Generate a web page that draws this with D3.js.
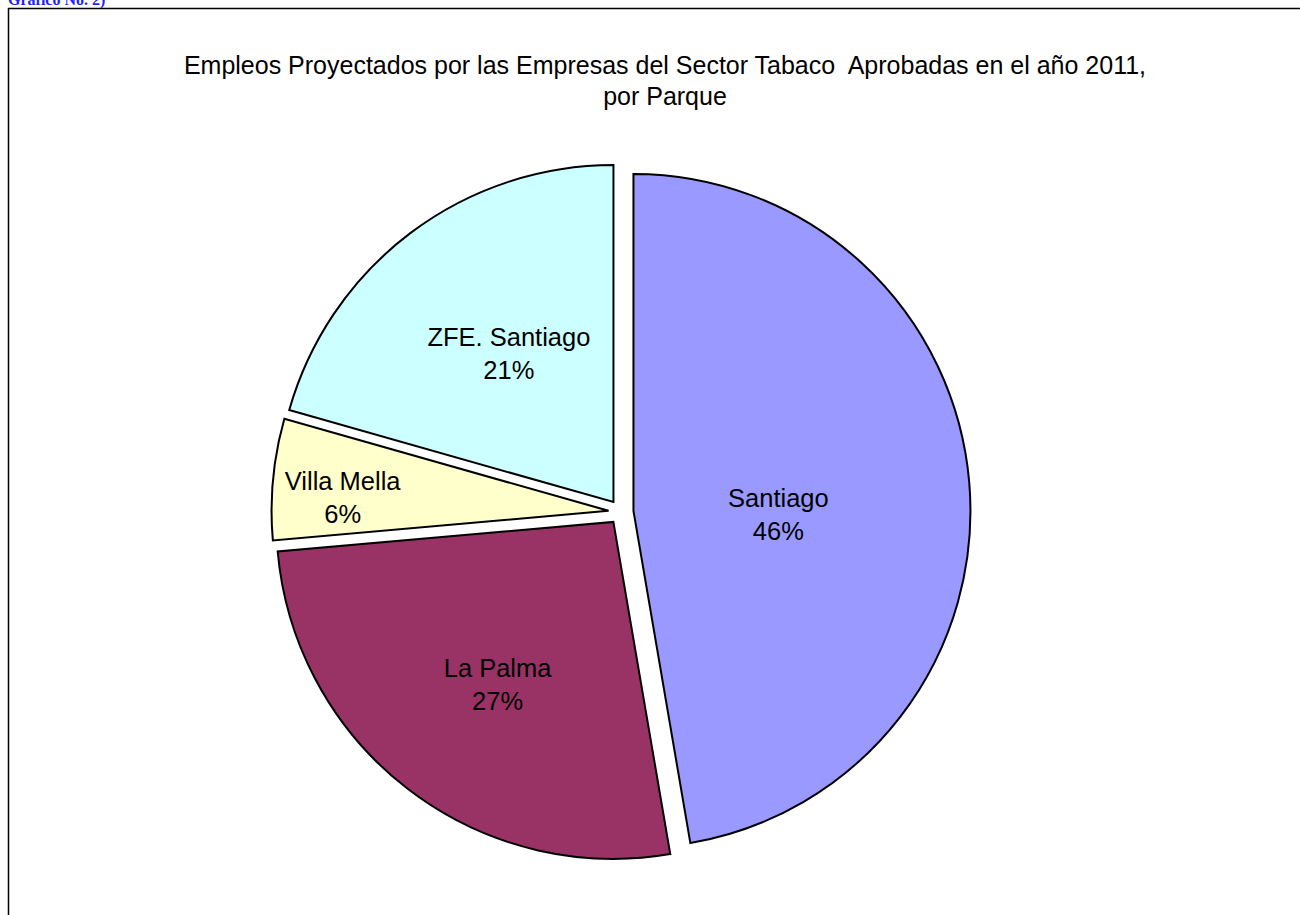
<!DOCTYPE html>
<html>
<head>
<meta charset="utf-8">
<script src="https://cdn.jsdelivr.net/npm/d3@7"></script>
<style>
  body { margin: 0; background: #fff; }
  svg { display: block; }
</style>
</head>
<body>
<div id="chart"></div>
<script>
const parques = ["Santiago", "La Palma", "Villa Mella", "ZFE. Santiago"];
const shares = [47.3, 26.3, 5.8, 20.6];
const pctLabels = ["46%", "27%", "6%", "21%"];
const colores = ["#9999FF", "#993366", "#FFFFCC", "#CCFFFF"];

const titleLines = ["Empleos Proyectados por las Empresas del Sector Tabaco  Aprobadas en el año 2011,", "por Parque"];

const width = 1300, height = 915;
const cx = 621, cy = 512, radius = 337, explode = 12.5;

// label placement: fraction of radius along bisector, angle tweak in degrees
const labelPlace = [{f: 0.43, da: 6}, {f: 0.59, da: -2}, {f: 0.79, da: -2.5}, {f: 0.54, da: 2}];

const svg = d3.select("#chart").append("svg")
    .attr("width", width)
    .attr("height", height);

// caption at top-left, clipped by the page edge as in the original
svg.append("text")
    .attr("x", 8)
    .attr("y", 5)
    .attr("font-family", "Liberation Serif, Times New Roman, serif")
    .attr("font-weight", "bold")
    .attr("font-size", 16)
    .attr("fill", "#1f1fff")
    .text("Gráfico No. 2)");

// chart frame
svg.append("rect")
    .attr("x", 8.5)
    .attr("y", 8.5)
    .attr("width", 1400)
    .attr("height", 1000)
    .attr("fill", "none")
    .attr("stroke", "#000")
    .attr("stroke-width", 1.5);

svg.append("text")
    .attr("text-anchor", "middle")
    .attr("font-family", "Liberation Sans, Arial, sans-serif")
    .attr("font-size", 25)
    .attr("fill", "#000")
    .style("white-space", "pre")
    .selectAll("tspan")
    .data(titleLines)
    .enter().append("tspan")
    .attr("x", 665)
    .attr("y", (d, i) => 74 + i * 31)
    .text(d => d);

const pie = d3.pie().sort(null).value(d => d)(shares);

const arc = d3.arc()
    .innerRadius(0)
    .outerRadius(radius);

const g = svg.append("g")
    .attr("transform", "translate(" + cx + "," + cy + ")");

const slices = g.selectAll("g.slice")
    .data(pie)
    .enter().append("g")
    .attr("class", "slice")
    .attr("transform", d => {
        let mid = (d.startAngle + d.endAngle) / 2;
        return "translate(" + (explode * Math.sin(mid)) + "," + (-explode * Math.cos(mid)) + ")";
    });

slices.append("path")
    .attr("d", arc)
    .attr("fill", (d, i) => colores[i])
    .attr("stroke", "#000")
    .attr("stroke-width", 2)
    .attr("stroke-linejoin", "miter");

const labels = slices.append("text")
    .attr("text-anchor", "middle")
    .attr("font-family", "Liberation Sans, Arial, sans-serif")
    .attr("font-size", 25.5)
    .attr("fill", "#000")
    .attr("transform", (d, i) => {
        let a = (d.startAngle + d.endAngle) / 2 + labelPlace[i].da * Math.PI / 180;
        let t = labelPlace[i].f * radius;
        return "translate(" + (t * Math.sin(a)) + "," + (-t * Math.cos(a)) + ")";
    });

labels.append("tspan")
    .attr("x", 0)
    .attr("y", -7)
    .text((d, i) => parques[i]);

labels.append("tspan")
    .attr("x", 0)
    .attr("y", 26)
    .text((d, i) => pctLabels[i]);
</script>
</body>
</html>
